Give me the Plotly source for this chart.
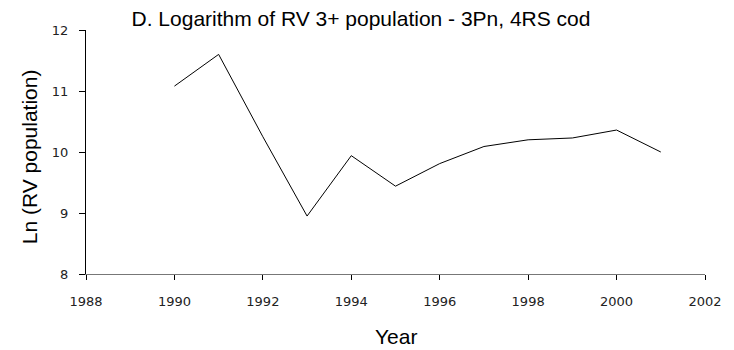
import plotly.graph_objects as go

# Survey (RV) 3+ population index, natural log, by year
years = [1990, 1991, 1992, 1993, 1994, 1995, 1996, 1997, 1998, 1999, 2000, 2001]
ln_pop = [11.08, 11.60, 10.25, 8.95, 9.94, 9.44, 9.81, 10.09, 10.20, 10.23, 10.36, 10.00]

x_ticks = [1988, 1990, 1992, 1994, 1996, 1998, 2000, 2002]
y_ticks = [8, 9, 10, 11, 12]

title_text = "D. Logarithm of RV 3+ population - 3Pn, 4RS cod"
x_title = "Year"
y_title = "Ln (RV population)"

W, H = 734, 350
ML, MR, MT, MB = 86, 26, 30, 76
plot_w = W - ML - MR
plot_h = H - MT - MB

fig = go.Figure()
fig.add_trace(go.Scatter(
    x=years, y=ln_pop, mode="lines",
    line=dict(color="#000000", width=1),
    hoverinfo="x+y", showlegend=False,
))

tick_font = dict(family="DejaVu Sans", size=13, color="#222222")
label_font = dict(family="Liberation Sans, Arial", size=21, color="#000000")

fig.update_layout(
    width=W, height=H,
    margin=dict(l=ML, r=MR, t=MT, b=MB, pad=0),
    paper_bgcolor="#ffffff", plot_bgcolor="#ffffff",
    title=dict(
        text=title_text,
        font=dict(family="Liberation Sans, Arial", size=21, color="#000000"),
        xref="container", yref="container",
        x=361 / W, y=1 - 19 / H, xanchor="center", yanchor="middle",
    ),
    xaxis=dict(
        range=[1988, 2002], tickvals=x_ticks, ticktext=[str(v) for v in x_ticks],
        showgrid=False, zeroline=False,
        showline=True, linecolor="#777777", linewidth=1,
        ticks="outside", ticklen=5, tickcolor="#000000", tickwidth=1,
        tickfont=tick_font, ticklabelstandoff=10,
    ),
    yaxis=dict(
        range=[8, 12], tickvals=y_ticks, ticktext=[str(v) for v in y_ticks],
        showgrid=False, zeroline=False,
        showline=True, linecolor="#000000", linewidth=1,
        ticks="outside", ticklen=6, tickcolor="#000000", tickwidth=1,
        tickfont=tick_font, ticklabelstandoff=8,
    ),
    annotations=[
        dict(text=x_title, xref="paper", yref="paper",
             x=0.5, y=-(336.5 - (H - MB)) / plot_h,
             xanchor="center", yanchor="middle", showarrow=False, font=label_font),
        dict(text=y_title, xref="paper", yref="paper",
             x=(29 - ML) / plot_w, y=(H - MB - 157) / plot_h, textangle=-90,
             xanchor="center", yanchor="middle", showarrow=False, font=label_font),
    ],
)

fig.write_html("out.html")
